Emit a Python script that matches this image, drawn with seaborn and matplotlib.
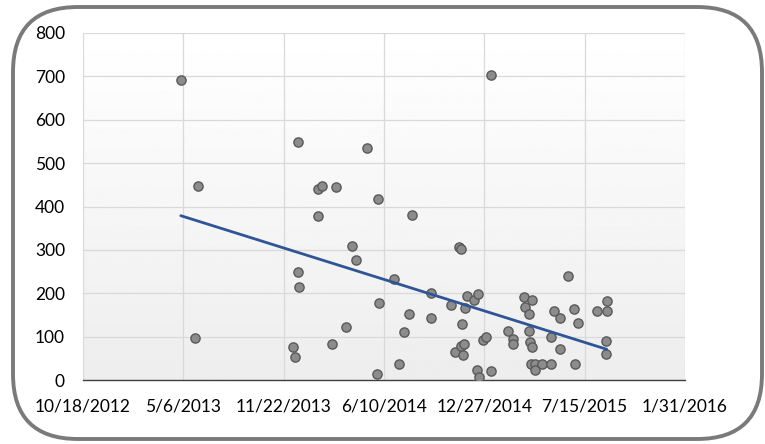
import numpy as np
import pandas as pd
import matplotlib
import matplotlib.pyplot as plt
import matplotlib.dates as mdates
from matplotlib.patches import FancyBboxPatch
import seaborn as sns

matplotlib.use("agg")

# sample dates and values
dates = [
    "2013-05-01", "2013-06-04", "2013-05-30", "2013-12-20", "2014-01-30",
    "2014-02-06", "2014-03-07", "2014-05-08", "2014-05-30", "2014-01-30",
    "2015-01-09", "2014-08-05", "2014-04-07", "2014-04-15", "2013-12-20",
    "2013-12-23", "2014-06-30", "2014-05-31", "2014-03-27", "2014-02-27",
    "2013-12-11", "2013-12-15", "2014-05-28", "2014-07-10", "2014-11-07",
    "2014-11-10", "2014-09-11", "2014-07-30", "2014-09-12", "2014-07-20",
    "2014-10-22", "2014-11-18", "2014-11-23", "2014-12-06", "2014-12-14",
    "2014-11-12", "2014-10-30", "2014-11-10", "2014-11-17", "2014-11-14",
    "2014-12-12", "2014-12-16", "2015-01-09", "2014-12-24", "2014-12-30",
    "2015-02-13", "2015-02-23", "2015-02-23", "2015-03-16", "2015-04-02",
    "2015-03-19", "2015-03-26", "2015-03-26", "2015-03-29", "2015-04-01",
    "2015-03-31", "2015-04-08", "2015-04-07", "2015-04-21", "2015-05-08",
    "2015-05-08", "2015-05-27", "2015-05-15", "2015-05-27", "2015-06-11",
    "2015-06-23", "2015-07-01", "2015-06-26", "2015-08-08", "2015-08-28",
    "2015-08-28", "2015-08-27", "2015-08-26",
]
values = [
    692, 448, 97, 548, 440, 448, 444, 535, 417, 379,
    703, 380, 308, 277, 248, 215, 233, 177, 123, 83,
    75, 52, 14, 36, 306, 301, 200, 153, 143, 110,
    173, 166, 194, 185, 198, 130, 64, 79, 83, 57,
    24, 8, 21, 93, 100, 113, 95, 84, 192, 184,
    169, 152, 112, 88, 75, 36, 36, 22, 36, 38,
    100, 71, 160, 143, 239, 164, 132, 38, 160, 183,
    160, 91, 61,
]
x_ticks = ["2012-10-18", "2013-05-06", "2013-11-22", "2014-06-10",
           "2014-12-27", "2015-07-15", "2016-01-31"]
y_ticks = [0, 100, 200, 300, 400, 500, 600, 700, 800]

df = pd.DataFrame({"date": pd.to_datetime(dates), "value": values})
df["num"] = mdates.date2num(df["date"])
tick_nums = mdates.date2num(pd.to_datetime(x_ticks))

sns.set_style("white")
plt.rcParams["font.family"] = ["Lato", "DejaVu Sans"]

fig = plt.figure(figsize=(7.65, 4.44), dpi=100)
ax = fig.add_axes([0.1085, 0.1441, 0.7869, 0.7816])

# rounded chart border
border = FancyBboxPatch((0.13, 0.05), 7.49, 4.32,
                        boxstyle="round,pad=0,rounding_size=0.65",
                        transform=fig.dpi_scale_trans, facecolor="none",
                        edgecolor="#7a7a7a", linewidth=2.8, zorder=0)
fig.patches.append(border)

# faint vertical gradient in plot area (white on top, light grey at bottom)
grad = np.linspace(1.0, 0.93, 256).reshape(-1, 1)
ax.imshow(grad, cmap="gray", vmin=0, vmax=1, aspect="auto", origin="upper",
          extent=[0, 1, 0, 1], transform=ax.transAxes, zorder=0)

sns.scatterplot(data=df, x="num", y="value", ax=ax, s=44, color="#8c8c8c",
                edgecolor="#595959", linewidth=1.0, zorder=3)
sns.regplot(data=df, x="num", y="value", ax=ax, scatter=False, ci=None,
            truncate=True, line_kws={"color": "#2f5597", "linewidth": 2.0,
                                     "zorder": 4})

ax.set_xlim(tick_nums[0], tick_nums[-1])
ax.set_ylim(0, 800)
ax.set_xticks(tick_nums)
ax.set_xticklabels([f"{d.month}/{d.day}/{d.year}" for d in pd.to_datetime(x_ticks)])
ax.set_yticks(y_ticks)
ax.grid(True, color="#d9d9d9", linewidth=0.9, zorder=1)
ax.set_axisbelow(True)
ax.set_xlabel("")
ax.set_ylabel("")
for side in ["left", "right", "top"]:
    ax.spines[side].set_visible(False)
ax.spines["bottom"].set_color("#404040")
ax.spines["bottom"].set_linewidth(1.0)
ax.tick_params(axis="both", length=0, labelsize=12.5, colors="#000000")
ax.tick_params(axis="x", pad=13)
ax.tick_params(axis="y", pad=13)

fig.savefig("out.png", dpi=100)
